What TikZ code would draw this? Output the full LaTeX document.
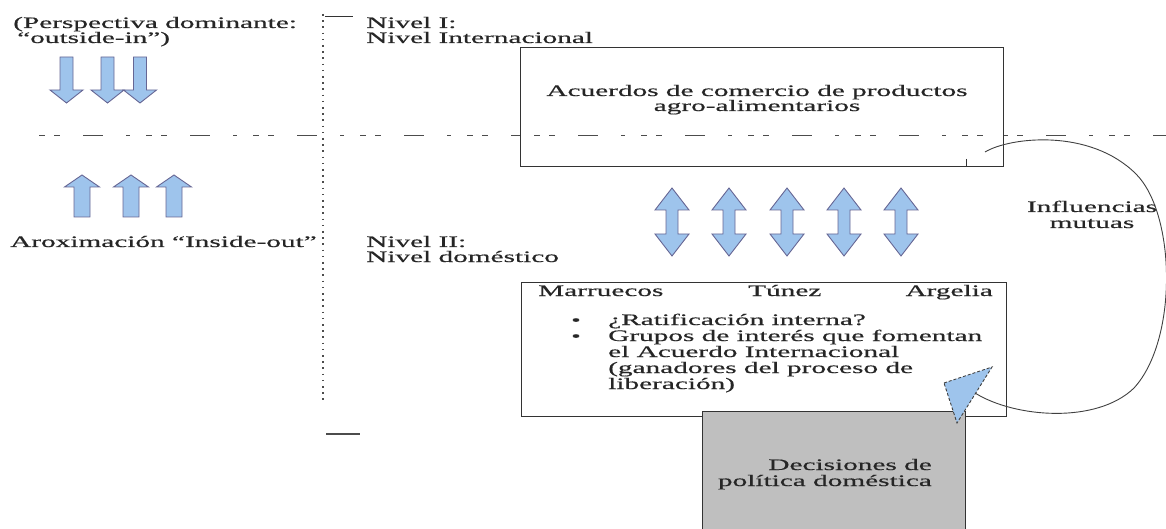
\documentclass[tikz,border=0pt]{standalone}
\usepackage{fontspec}
\setmainfont{Liberation Serif}[FakeStretch=1.83,FakeBold=0.5]
\begin{document}
\begin{tikzpicture}[x=1pt,y=-1pt,
  txt/.style={inner sep=0pt,anchor=base west,font=\fontsize{16}{16}\selectfont,text=black!85},
  txtc/.style={txt,anchor=base},
  txtr/.style={txt,anchor=base east},
  boxline/.style={draw=black!80,line width=1pt},
  blk/.style={draw=black!70!blue!60,line width=0.9pt,fill={rgb,255:red,158;green,196;blue,236},line join=miter},
  sepline/.style={draw=black!70,line width=1pt,dash pattern=on 20pt off 23pt on 4pt off 16pt on 6pt off 9pt on 6pt off 23pt,dash phase=49pt},
  dotline/.style={draw=black!70,line width=1.6pt,dash pattern=on 1.6pt off 4.6pt}
]
\useasboundingbox (0,0) rectangle (1166,529);
% separators
\draw[sepline] (25,136) -- (1166,136);
\draw[dotline] (323,14) -- (323,400);
\coordinate (tickA) at (325,16); \coordinate (tickB) at (353,16);
\draw[black!80,line width=0.9pt] (tickA) -- (tickB);
\coordinate (tickC) at (326,434); \coordinate (tickD) at (360,434);
\draw[black!70,line width=1.2pt] (tickC) -- (tickD);
% left texts
\node[txt] (persp1) at (13,28) {(Perspectiva dominante:};
\node[txt] (persp2) at (17,43) {“outside-in”)};
\node[txt] (aprox) at (10,247) {Aroximación “Inside-out”};
% down arrows
\foreach \cx in {66.5,107.5,140}{
  \draw[blk] (\cx-6.5,57) -- (\cx+6.5,57) -- (\cx+6.5,90) -- (\cx+16.5,90) -- (\cx,103) -- (\cx-16.5,90) -- (\cx-6.5,90) -- cycle;
}
% up arrows
\foreach \cx in {82,131,174}{
  \draw[blk] (\cx-8,217) -- (\cx+8,217) -- (\cx+8,187) -- (\cx+17.5,187) -- (\cx,175) -- (\cx-17.5,187) -- (\cx-8,187) -- cycle;
}
% level labels
\node[txt] (n1a) at (366,28) {Nivel I:};
\node[txt] (n1b) at (366,43) {Nivel Internacional};
\node[txt] (n2a) at (366,247) {Nivel II:};
\node[txt] (n2b) at (366,262) {Nivel doméstico};
% top box
\node[boxline,fill=white,minimum width=483pt,minimum height=119pt,anchor=north west,inner sep=0pt] (topbox) at (520,47) {};
\draw[sepline] (520,136) -- (1003,136);
\node[txtc] (acu1) at (757,96) {Acuerdos de comercio de productos};
\node[txtc] (acu2) at (757,111) {agro-alimentarios};
\coordinate (tk1) at (966,159);
\draw[black!80,line width=1pt] (tk1) -- (tk1 |- topbox.south);
% double arrows
\foreach \cx in {672,729,787,844,901}{
  \draw[blk] (\cx,188) -- (\cx+17,210) -- (\cx+6,210) -- (\cx+6,234) -- (\cx+17,234) -- (\cx,256) -- (\cx-17,234) -- (\cx-6,234) -- (\cx-6,210) -- (\cx-17,210) -- cycle;
}
\node[txtc] (infl1) at (1092,212) {Influencias};
\node[txtc] (infl2) at (1092,228) {mutuas};
% bottom box
\node[boxline,fill=white,minimum width=485pt,minimum height=134pt,anchor=north west,inner sep=0pt] (botbox) at (521,282) {};
\node[txt] (mar) at (538,296) {Marruecos};
\node[txt] (tun) at (748,296) {Túnez};
\node[txtr] (arg) at (993,296) {Argelia};
\node[txt,font=\fontsize{15}{15}\selectfont] (b1) at (571,325) {•};
\node[txt,font=\fontsize{15}{15}\selectfont] (b2) at (571,341) {•};
\node[txt] (l1) at (608,325) {¿Ratificación interna?};
\node[txt] (l2) at (608,341) {Grupos de interés que fomentan};
\node[txt] (l3) at (608,357) {el Acuerdo Internacional};
\node[txt] (l4) at (608,373) {(ganadores del proceso de};
\node[txt] (l5) at (608,389) {liberación)};
% gray box
\fill[black!25] (702,411) rectangle (965,529);
\draw[black!80,line width=1pt] (702,529) -- (702,411) -- (965,411) -- (965,529);
\coordinate (grayNW) at (702,411);
\node[txtr] (dec1) at (932,470) {Decisiones de};
\node[txtr] (dec2) at (932,486) {política doméstica};
% curve
\coordinate (cstart) at (985,152);
\coordinate (cend) at (975,393);
\draw[black!75,line width=0.9pt] (cstart) .. controls (1010,137) and (1090,128) .. (1136,174) .. controls (1176,214) and (1178,340) .. (1134,388) .. controls (1097,424) and (1015,418) .. (cend);
% triangle
\draw[blk,draw=black!75,dashed,dash pattern=on 3pt off 2pt] (944,383) -- (992,367) -- (957,423) -- cycle;
\end{tikzpicture}
\end{document}
